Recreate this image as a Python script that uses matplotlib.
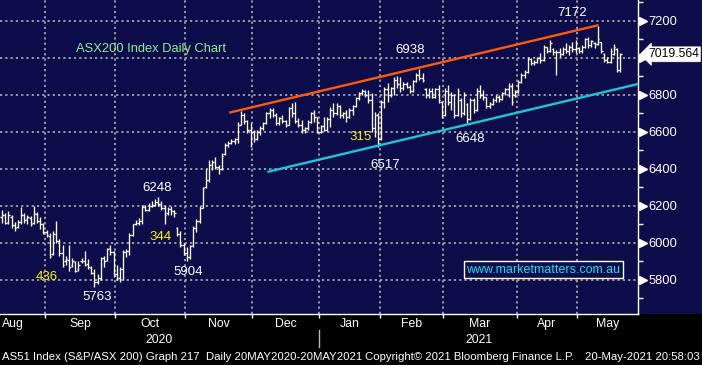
import numpy as np
import matplotlib
matplotlib.use('Agg')
import matplotlib.pyplot as plt
from matplotlib.collections import LineCollection
from matplotlib.patches import Rectangle

plt.rcParams['font.family'] = ['Liberation Sans', 'DejaVu Sans']
plt.rcParams['lines.scale_dashes'] = False

# ---------------- data ----------------
month_names = ['Aug', 'Sep', 'Oct', 'Nov', 'Dec', 'Jan', 'Feb', 'Mar', 'Apr', 'May']
month_days = [14, 22, 22, 21, 21, 19, 20, 23, 19, 14]   # trading days shown per month
year_labels = ['2020', '2021']

opens = [
    6140, 6150, 6115, 6140, 6095, 6085, 6115, 6150, 6130, 6135, 6110, 6155, 6120, 6100,
    6060, 6040, 5940, 6050, 6010, 5945, 5900, 5910, 5880, 5895, 5860, 5900, 5905, 5885, 5865, 5840, 5790, 5810, 5920, 5910, 5970, 5950,
    5830, 5810, 5860, 5950, 5955, 6045, 6100, 6110, 6120, 6195, 6180, 6200, 6205, 6220, 6210, 6190, 6160, 6185, 6170, 6080, 6050, 5990,
    5945, 5925, 5990, 6080, 6120, 6190, 6300, 6340, 6420, 6440, 6410, 6400, 6480, 6530, 6540, 6550, 6560, 6640, 6690, 6660, 6610,
    6600, 6560, 6600, 6620, 6650, 6700, 6720, 6690, 6650, 6675, 6660, 6640, 6730, 6700, 6660, 6640, 6610, 6620, 6655, 6700, 6680,
    6600, 6630, 6610, 6670, 6720, 6700, 6740, 6690, 6700, 6680, 6720, 6740, 6785, 6810, 6820, 6800, 6770, 6620, 6690,
    6560, 6760, 6830, 6800, 6840, 6880, 6860, 6840, 6860, 6845, 6820, 6875, 6910, 6890, 6830, 6800, 6820, 6790, 6830, 6760,
    6690, 6820, 6760, 6800, 6690, 6770, 6700, 6750, 6670, 6770, 6720, 6820, 6800, 6790, 6740, 6750, 6770, 6790, 6780, 6810, 6830, 6850, 6800,
    6815, 6870, 6905, 6925, 6995, 6975, 6980, 7000, 6990, 7060, 7040, 7050, 7030, 7030, 7020, 7050, 7040, 7060, 7050,
    7055, 7035, 7060, 7100, 7070, 7080, 7075, 7085, 7020, 6990, 6980, 7020, 7050, 6935,
]
highs = [
    6178, 6160, 6170, 6150, 6115, 6125, 6196, 6160, 6150, 6145, 6200, 6165, 6140, 6110,
    6070, 6052, 6065, 6120, 6020, 5990, 5930, 5990, 5920, 5905, 5900, 5920, 5955, 5915, 5875, 5860, 5830, 5925, 5930, 5975, 5990, 5955,
    5880, 5870, 5960, 5965, 6055, 6105, 6125, 6135, 6205, 6205, 6215, 6225, 6240, 6248, 6225, 6205, 6195, 6200, 6180, 6085, 6065, 6000,
    5980, 5990, 6090, 6130, 6200, 6305, 6400, 6450, 6450, 6465, 6420, 6485, 6540, 6550, 6560, 6565, 6656, 6712, 6700, 6665, 6650,
    6612, 6612, 6630, 6656, 6710, 6728, 6728, 6700, 6683, 6692, 6665, 6737, 6755, 6764, 6674, 6665, 6629, 6665, 6710, 6719, 6683,
    6638, 6683, 6683, 6737, 6755, 6755, 6746, 6710, 6719, 6728, 6746, 6791, 6818, 6832, 6827, 6827, 6809, 6710, 6700,
    6773, 6845, 6863, 6845, 6899, 6900, 6899, 6870, 6872, 6854, 6881, 6917, 6938, 6917, 6836, 6836, 6836, 6836, 6854, 6764,
    6836, 6854, 6818, 6805, 6836, 6782, 6818, 6755, 6782, 6782, 6836, 6854, 6827, 6791, 6764, 6782, 6800, 6800, 6818, 6836, 6863, 6863, 6827,
    6881, 6917, 6935, 7007, 6998, 6989, 7007, 7025, 7070, 7061, 7097, 7052, 7043, 7052, 7061, 7079, 7070, 7088, 7097,
    7061, 7070, 7106, 7115, 7097, 7088, 7172, 7088, 7025, 7007, 7052, 7075, 7055, 7027,
]
lows = [
    6106, 6105, 6100, 6080, 6062, 6080, 6105, 6110, 6100, 6090, 6100, 6110, 6075, 6050,
    6030, 5920, 5935, 6000, 5930, 5870, 5880, 5850, 5870, 5845, 5850, 5890, 5875, 5860, 5830, 5763, 5780, 5800, 5870, 5900, 5935, 5815,
    5800, 5790, 5800, 5925, 5935, 6040, 6095, 6095, 6105, 6170, 6175, 6195, 6200, 6200, 6180, 6105, 6150, 6150, 6140, 6040, 5980, 5935,
    5904, 5915, 5980, 6060, 6110, 6190, 6295, 6330, 6395, 6400, 6375, 6395, 6475, 6520, 6535, 6535, 6540, 6635, 6645, 6595, 6520,
    6548, 6555, 6585, 6611, 6645, 6674, 6683, 6638, 6638, 6647, 6629, 6635, 6683, 6647, 6629, 6593, 6593, 6611, 6647, 6656, 6593,
    6593, 6603, 6603, 6629, 6683, 6690, 6674, 6674, 6656, 6675, 6692, 6737, 6773, 6800, 6791, 6755, 6602, 6575, 6517,
    6555, 6728, 6764, 6791, 6800, 6840, 6818, 6827, 6836, 6809, 6815, 6870, 6881, 6872, 6782, 6782, 6782, 6782, 6755, 6674,
    6685, 6746, 6719, 6674, 6685, 6683, 6692, 6648, 6665, 6701, 6715, 6782, 6773, 6728, 6728, 6746, 6764, 6764, 6775, 6800, 6791, 6745, 6791,
    6810, 6865, 6890, 6920, 6962, 6962, 6971, 6971, 6985, 7025, 7034, 7016, 6908, 7007, 7015, 7025, 7016, 7034, 7025,
    7025, 7025, 7055, 7052, 7061, 7052, 7070, 7025, 6980, 6971, 6975, 7015, 6926, 6926,
]
closes = [
    6150, 6110, 6150, 6095, 6080, 6115, 6150, 6125, 6140, 6100, 6160, 6120, 6100, 6060,
    6045, 5930, 6050, 6010, 5945, 5880, 5915, 5870, 5900, 5850, 5880, 5905, 5880, 5870, 5840, 5790, 5810, 5915, 5900, 5965, 5950, 5830,
    5810, 5860, 5950, 5955, 6045, 6100, 6110, 6120, 6195, 6180, 6200, 6205, 6220, 6210, 6190, 6150, 6185, 6170, 6160, 6050, 5990, 5945,
    5925, 5985, 6080, 6120, 6190, 6295, 6340, 6420, 6440, 6410, 6400, 6470, 6530, 6540, 6550, 6560, 6640, 6690, 6660, 6610, 6600,
    6560, 6600, 6620, 6650, 6700, 6720, 6690, 6650, 6675, 6660, 6640, 6730, 6700, 6660, 6640, 6610, 6620, 6655, 6700, 6680, 6600,
    6630, 6610, 6670, 6720, 6700, 6740, 6690, 6700, 6680, 6720, 6740, 6785, 6810, 6820, 6800, 6770, 6620, 6690, 6560,
    6760, 6830, 6800, 6840, 6880, 6860, 6840, 6860, 6845, 6820, 6875, 6910, 6890, 6880, 6800, 6820, 6790, 6830, 6770, 6690,
    6820, 6760, 6800, 6690, 6820, 6700, 6800, 6670, 6770, 6720, 6820, 6800, 6790, 6740, 6750, 6770, 6790, 6780, 6810, 6830, 6850, 6760, 6815,
    6870, 6905, 6925, 6995, 6975, 6980, 7000, 6990, 7060, 7040, 7080, 7030, 7030, 7020, 7050, 7040, 7060, 7050, 7080,
    7035, 7060, 7100, 7070, 7090, 7075, 7100, 7040, 6990, 6980, 7040, 7060, 6935, 7020,
]
last_price = 7019.564

# trend channel endpoints (trading-day index, index level)
upper_trend_x = [71.3, 187.2]
upper_trend_y = [6704, 7177]
lower_trend_x = [83.3, 199.6]
lower_trend_y = [6384, 6859]

# price annotations: (text, x index, y level, colour)
annotations = [
    ('7172', 178.9, 7243, 'white'),
    ('6938', 128.1, 7043, 'white'),
    ('6517', 120.2, 6422, 'white'),
    ('6648', 146.9, 6562, 'white'),
    ('6248', 48.7, 6297, 'white'),
    ('5904', 58.4, 5843, 'white'),
    ('5763', 29.8, 5708, 'white'),
    ('315', 112.4, 6573, '#f5f500'),
    ('344', 49.6, 6032, '#f5f500'),
    ('436', 14.0, 5816, '#f5f500'),
]
y_major = [5800, 6000, 6200, 6400, 6600, 6800, 7000, 7200]
y_major_labels = ['5800', '6000', '6200', '6400', '6600', '6800', '', '7200']  # 7000 hidden by price tag
y_minor = [5700, 5900, 6100, 6300, 6500, 6700, 6900, 7100, 7300]

# ---------------- style ----------------
NAVY = '#0e0d4b'
GRID = '#a3a3a3'
W, H = 702, 365
ax_right, ax_bottom = 638, 314

fig = plt.figure(figsize=(W / 100, H / 100), dpi=100, facecolor=NAVY)
fig.patches.append(Rectangle((0, 0), 1, (H - ax_bottom) / H, transform=fig.transFigure,
                             facecolor='black', edgecolor='none', zorder=-5))
ax = fig.add_axes([0, (H - ax_bottom) / H, ax_right / W, ax_bottom / H])
ax.set_facecolor(NAVY)

xlim = (-0.63, 199.6)
ax.set_xlim(*xlim)
ax.set_ylim(5616, 7313)

n = len(closes)
idx = np.arange(n)
bounds = np.cumsum(month_days)[:-1] - 0.5

# grid
dash = (0, (1.6, 2.2))
for y in y_major:
    ax.axhline(y, color=GRID, lw=1.3, linestyle=dash, zorder=1)
for b in bounds:
    ax.axvline(b, color=GRID, lw=1.3, linestyle=dash, zorder=1)

# OHLC bars
segs = []
for i in idx:
    segs.append([(i, lows[i]), (i, highs[i])])
    segs.append([(i - 0.5, opens[i]), (i, opens[i])])
    segs.append([(i, closes[i]), (i + 0.5, closes[i])])
ax.add_collection(LineCollection(segs, colors='white', linewidths=0.95, zorder=3))

# trend lines
ax.plot(upper_trend_x, upper_trend_y, color='#ff5a0a', lw=1.7, zorder=4, solid_capstyle='butt')
ax.plot(lower_trend_x, lower_trend_y, color='#1cc6d4', lw=1.7, zorder=4, solid_capstyle='butt')

# annotations
for txt, xi, yv, col in annotations:
    ax.text(xi, yv, txt, color=col, fontsize=9.5, ha='center', va='center', zorder=5)
ax.text(46.8, 7049, 'ASX200 Index Daily Chart', color='#93ee93', fontsize=9.3,
        ha='center', va='center', zorder=5)
ax.text(169.8, 5854, 'www.marketmatters.com.au', color='#14e0f0', fontsize=9,
        ha='center', va='center', zorder=6,
        bbox=dict(boxstyle='square,pad=0.2', fc=NAVY, ec='white', lw=1.0))

# spines
for s in ['top', 'left']:
    ax.spines[s].set_visible(False)
for s in ['right', 'bottom']:
    ax.spines[s].set_color('white')
    ax.spines[s].set_linewidth(1.0)

# y axis (right)
ax.yaxis.tick_right()
ax.set_yticks(y_major)
ax.set_yticklabels(y_major_labels)
ax.set_yticks(y_minor, minor=True)
ax.tick_params(axis='y', which='major', length=0, pad=7.5, labelsize=9.3, labelcolor='white')
ax.tick_params(axis='y', which='minor', length=3.5, width=1, color='white', direction='out')
ax.plot([1 + 4.5 / ax_right] * len(y_major), y_major, ls='none', marker='>', ms=5.5,
        color='white', mec='white', transform=ax.get_yaxis_transform(), clip_on=False, zorder=6)

# last price tag
ax.text(1 + 10 / ax_right, last_price, f'{last_price:.3f}', transform=ax.get_yaxis_transform(),
        ha='left', va='center', fontsize=8.7, color='black', clip_on=False, zorder=7,
        bbox=dict(boxstyle='larrow,pad=0.12', fc='white', ec='white', lw=0.5))

# x axis
ax.set_xticks(bounds)
ax.set_xticklabels([])
ax.tick_params(axis='x', which='major', length=3, width=1, color='white', direction='out')

xt = ax.get_xaxis_transform()
edges = [xlim[0]] + list(bounds) + [xlim[1]]
for k, name in enumerate(month_names):
    if k == 0:
        ax.text(xlim[0] + 0.6, -0.032, name, transform=xt, ha='left', va='center',
                color='white', fontsize=8.8, clip_on=False)
    else:
        ax.text((edges[k] + edges[k + 1]) / 2, -0.032, name, transform=xt, ha='center',
                va='center', color='white', fontsize=8.8, clip_on=False)

year_split = bounds[4]  # Dec/Jan boundary
ax.text((xlim[0] + year_split) / 2, -0.083, year_labels[0], transform=xt, ha='center',
        va='center', color='white', fontsize=8.8, clip_on=False)
ax.text((year_split + xlim[1]) / 2, -0.083, year_labels[1], transform=xt, ha='center',
        va='center', color='white', fontsize=8.8, clip_on=False)
ax.plot([year_split, year_split], [-0.051, -0.105], transform=xt, color='#b8b8b8',
        lw=1, clip_on=False)

# footer
fy = (H - 357) / H
fig.text(2 / W, fy, 'AS51 Index (S&P/ASX 200) Graph 217', color='white', fontsize=8.2, va='center', ha='left')
fig.text(206 / W, fy, 'Daily 20MAY2020-20MAY2021', color='white', fontsize=8.2, va='center', ha='left')
fig.text(365 / W, fy, 'Copyright\u00a9 2021 Bloomberg Finance L.P.', color='white', fontsize=8.2, va='center', ha='left')
fig.text(700 / W, fy, '20-May-2021 20:58:03', color='white', fontsize=8.2, va='center', ha='right')

fig.savefig('out.png', dpi=100, facecolor=fig.get_facecolor())
